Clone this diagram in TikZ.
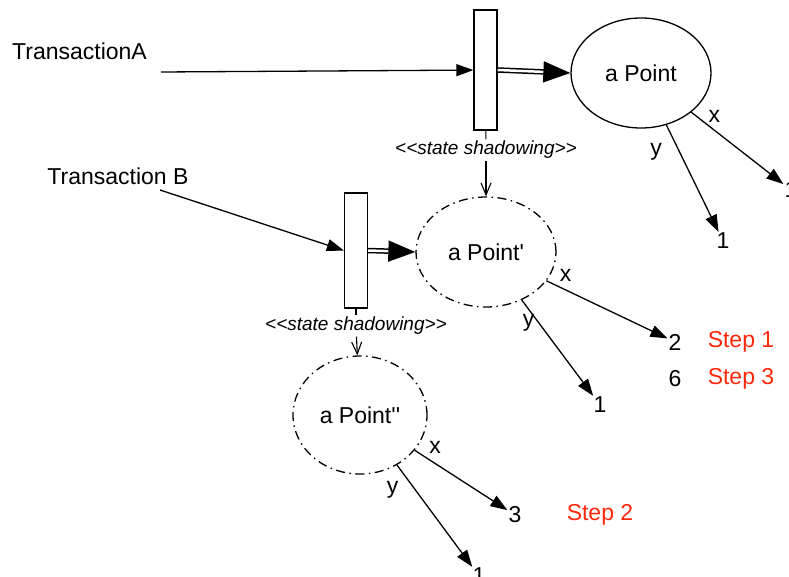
\documentclass[tikz,border=0pt]{standalone}
\usepackage{fontspec}
\setmainfont{Liberation Sans}
\usetikzlibrary{arrows.meta,shapes.geometric}

\tikzset{
  txt/.style={font=\fontsize{23}{27}\selectfont, inner sep=1pt},
  steplabel/.style={txt, text={rgb,255:red,255;green,40;blue,10}},
  shadow/.style={font=\fontsize{19}{22}\selectfont\itshape, inner sep=1.5pt},
  lock/.style={draw, line width=1.3pt, minimum width=23pt, inner sep=0pt},
  point/.style={ellipse, draw, line width=1.3pt, txt, inner sep=0pt},
  copy/.style={point, dash pattern=on 9pt off 4.5pt on 1.5pt off 4.5pt},
  link/.style={line width=1.3pt, -{Triangle[length=17pt,width=12pt]}},
  fwd/.style={double, double distance=2.5pt, line width=1.5pt,
    -{Triangle[length=27pt,width=21pt]}},
  shad/.style={line width=1.1pt, -{Straight Barb[length=12pt,width=10pt]}}
}

\begin{document}
\begin{tikzpicture}[x=1pt,y=-1pt]
\useasboundingbox (0,0) rectangle (789,577);

% nodes
\node (ta) [txt] at (79.5,51) {TransactionA};
\node (tb) [txt] at (118,176) {Transaction B};
\coordinate (sa) at (161,72);
\coordinate (sb) at (160,190);
\node (ra) [lock, minimum height=120pt] at (485.5,70) {};
\node (rb) [lock, minimum height=115pt] at (356,250.5) {};
\node (pa) [point, minimum width=140pt, minimum height=110pt] at (641,73) {a Point};
\node (pb) [copy, minimum width=140pt, minimum height=110pt] at (486,252) {a Point\textquotesingle};
\node (pc) [copy, minimum width=134pt, minimum height=118pt] at (360,415) {a Point\textquotesingle\textquotesingle};
\node (sha) [shadow] at (486,150) {{<}{<}state shadowing{>}{>}};
\node (shb) [shadow] at (356,326) {{<}{<}state shadowing{>}{>}};

\node (ax) [txt] at (791,190) {1};
\node (ay) [txt] at (723,241) {1};
\node (bx) [txt] at (675,342) {2};
\node (bs) [txt] at (675,379) {6};
\node (by) [txt] at (600,405) {1};
\node (cx) [txt] at (515,515) {3};
\node (cy) [txt] at (479,576) {1};

\node (s1) [steplabel] at (741,342) {Step 1};
\node (s3) [steplabel] at (741,379) {Step 3};
\node (s2) [steplabel] at (600,515) {Step 2};

% arrows
\draw[link] (sa) -- (ra);
\draw[link] (sb) -- (rb.west);
\draw[fwd] (ra.east) -- (pa.west);
\draw[fwd] (rb.east) -- (pb.west);
\draw[line width=1.1pt] (ra) -- (sha);
\draw[shad] (sha) -- (pb);
\draw[line width=1.1pt] (rb) -- (shb);
\draw[shad] (shb) -- (pc);

\draw[link] (pa) -- node[txt, pos=0.17, above right] {x} (ax);
\draw[link] (pa) -- node[txt, pos=0.25, left=16pt] {y} (ay);
\draw[link] (pb) -- node[txt, pos=0.08, above right=2pt] {x} (bx);
\draw[link] (pb) -- node[txt, pos=0.24, left=3pt] {y} (by);
\draw[link] (pc) -- node[txt, pos=0.12, above right=2pt] {x} (cx);
\draw[link] (pc) -- node[txt, pos=0.24, left=15pt] {y} (cy);
\end{tikzpicture}
\end{document}
